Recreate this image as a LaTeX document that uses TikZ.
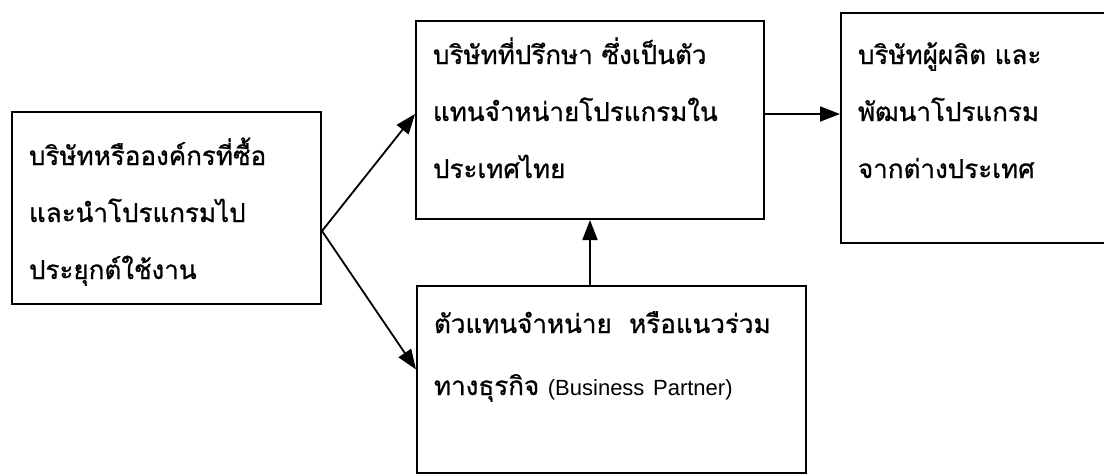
\documentclass[tikz,border=0pt]{standalone}
\usepackage{fontspec}
\setmainfont{Liberation Sans}
\newfontfamily\thaifont[Script=Thai,FakeBold=0.8]{Loma}
\usetikzlibrary{arrows.meta}

\begin{document}
\begin{tikzpicture}[x=1pt,y=-1pt,
        box/.style={draw,line width=2pt,anchor=north west,align=left,
            inner xsep=17pt,inner ysep=0pt,
            font=\thaifont\fontsize{26}{57}\selectfont},
        flow/.style={line width=1.8pt,-{Triangle[length=20pt,width=15pt]}}]
    \useasboundingbox (0,0) rectangle (1104,475);
    \begin{scope}[every node/.style={box}]
        \node (buyer) at (11,111) [text width=275pt,minimum width=309pt,
                text height=53pt,text depth=139pt]
            {บริษัทหรือองค์กรที่ซื้อ\\และนำโปรแกรมไป\\ประยุกต์ใช้งาน};
        \node (consult) at (415,20) [text width=314pt,minimum width=348pt,
                text height=43pt,text depth=155pt]
            {บริษัทที่ปรึกษา ซึ่งเป็นตัว\\แทนจำหน่ายโปรแกรมใน\\ประเทศไทย};
        \node (maker) at (840,12) [text width=236pt,minimum width=270pt,
                text height=51pt,text depth=179pt]
            {บริษัทผู้ผลิต และ\\พัฒนาโปรแกรม\\จากต่างประเทศ};
        \node (partner) at (416,285) [text width=355pt,minimum width=389pt,
                text height=47pt,text depth=140pt,
                font=\thaifont\fontsize{26}{62}\selectfont]
            {ตัวแทนจำหน่าย\ \ หรือแนวร่วม\\ทางธุรกิจ {\rmfamily\fontsize{22}{62}\selectfont (Business Partner)}};
    \end{scope}
    \coordinate (fork) at ([yshift=-23pt]buyer.east);
    \coordinate (out) at ([yshift=6pt]consult.east);
    \path[flow] (fork) edge ([yshift=6pt]consult.west);
    \path[flow] (fork) edge ([yshift=10pt]partner.west);
    \path[flow] (partner.north -| consult.south) edge (consult.south);
    \path[flow] (out) edge (out -| maker.west);
\end{tikzpicture}
\end{document}
